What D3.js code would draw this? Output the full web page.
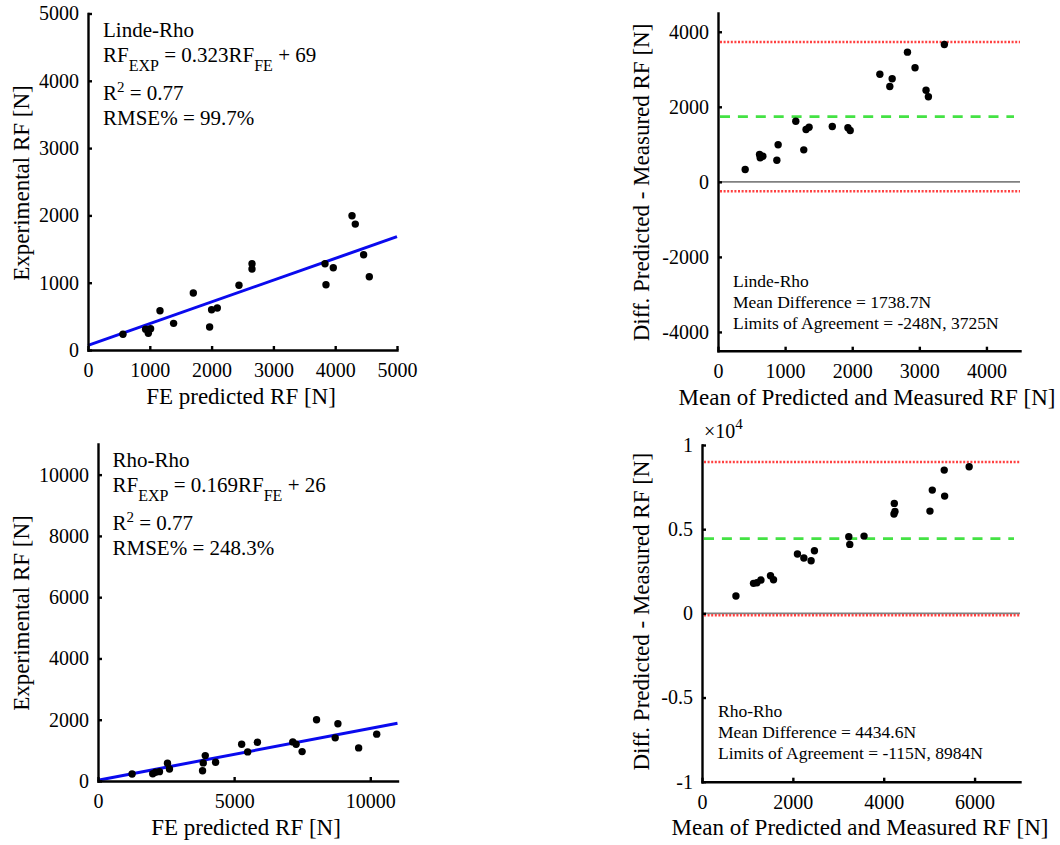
<!DOCTYPE html>
<html>
<head>
<meta charset="utf-8">
<script src="https://d3js.org/d3.v7.min.js"></script>
<style>
  body { margin: 0; background: #fff; }
</style>
</head>
<body>
<div id="chart"></div>
<script>
// Linde-Rho scatter (FE predicted vs experimental)
var lindeFE  = [566, 932, 976, 1013, 1165, 1385, 1704, 1968, 2000, 2092, 2443, 2654, 2654, 3835, 3851, 3969, 4272, 4325, 4460, 4552]
var lindeExp = [233, 308, 248, 316, 584, 396, 846, 342, 599, 624, 961, 1282, 1203, 1282, 970, 1222, 1994, 1871, 1415, 1089]
var lindeFit = {slope: 0.323, icpt: 69}

// Linde-Rho Bland-Altman
var lindeMean = [405, 619, 629, 668, 877, 896, 1159, 1278, 1312, 1357, 1703, 1936, 1970, 2412, 2560, 2595, 2823, 2936, 3100, 3135, 3373]
var lindeDiff = [329, 728, 640, 683, 576, 987, 1616, 853, 1395, 1456, 1475, 1440, 1368, 2869, 2541, 2747, 3456, 3040, 2443, 2267, 3661]
var lindeBA = {mean: 1738.7, lo: -248, hi: 3725}

// Rho-Rho scatter
var rhoFE  = [1252, 2010, 2110, 2257, 2552, 2625, 3840, 3866, 3940, 4319, 5276, 5497, 5854, 7154, 7276, 7497, 8027, 8712, 8811, 9573, 10236]
var rhoExp = [229, 239, 285, 305, 580, 393, 337, 590, 829, 612, 1202, 950, 1267, 1277, 1202, 960, 1998, 1408, 1867, 1081, 1529]
var rhoFit = {slope: 0.169, icpt: 26}

// Rho-Rho Bland-Altman
var rhoMean = [747, 1134, 1209, 1297, 1508, 1574, 2101, 2242, 2402, 2475, 3231, 3253, 3567, 4233, 4248, 4226, 5018, 5069, 5341, 5332, 5881]
var rhoDiff = [1027, 1781, 1817, 1977, 2233, 1995, 3521, 3284, 3124, 3717, 4549, 4097, 4590, 6532, 6057, 5897, 6075, 7322, 6966, 8510, 8706]
var rhoBA = {mean: 4434.6, lo: -115, hi: 8984}

var FONT = "'Liberation Serif', 'Times New Roman', Tinos, serif"
var W = 1060, H = 845
var svg = d3.select("#chart").append("svg").attr("width", W).attr("height", H)

function txt(sel){ return sel.style("font-family", FONT).attr("fill", "#000") }

function axes(g, x, y, opt){
	var xa = d3.axisBottom(x).tickValues(opt.xTicks).tickSizeInner(-4).tickSizeOuter(0).tickPadding(13).tickFormat(function(d){return String(d)})
	var ya = d3.axisLeft(y).tickValues(opt.yTicks).tickSizeInner(-4).tickSizeOuter(0).tickPadding(9).tickFormat(opt.yFmt || function(d){return String(d)})
	var gx = g.append("g").attr("transform", "translate(0," + y.range()[0] + ")").call(xa)
	var gy = g.append("g").attr("transform", "translate(" + x.range()[0] + ",0)").call(ya)
	;[gx, gy].forEach(function(a){
		a.attr("font-family", FONT).attr("font-size", 20)
		a.select(".domain").attr("stroke", "#000").attr("stroke-width", 2.4).attr("stroke-linecap", "square")
		a.selectAll(".tick line").attr("stroke", "#000").attr("stroke-width", 2.4)
		txt(a.selectAll(".tick text")).style("font-size", "20px")
	})
	// axis titles
	txt(g.append("text")).attr("x", opt.xt[0]).attr("y", opt.xt[1]).attr("text-anchor", "middle")
		.style("font-size", "23px").text(opt.xTitle)
	txt(g.append("text")).attr("transform", "translate(" + opt.yt[0] + "," + opt.yt[1] + ") rotate(-90)")
		.attr("text-anchor", "middle").style("font-size", "23px").text(opt.yTitle)
}

function dots(g, x, y, xs, ys){
	g.selectAll("circle.pt").data(xs).enter().append("circle").attr("class", "pt")
		.attr("cx", function(d){return x(d)})
		.attr("cy", function(d, i){return y(ys[i])})
		.attr("r", 3.7).attr("fill", "#000")
}

function scatterPanel(r, fe, exp, fit, dom, ticks, label, eqA, eqB, rmse){
	var g = svg.append("g")
	var x = d3.scaleLinear().domain([0, dom]).range([r.left, r.right])
	var y = d3.scaleLinear().domain([0, dom]).range([r.bottom, r.top])
	g.append("line").attr("x1", x(0)).attr("y1", y(fit.icpt)).attr("x2", x(dom)).attr("y2", y(fit.slope * dom + fit.icpt))
		.attr("stroke", "#0a0aee").attr("stroke-width", 3)
	dots(g, x, y, fe, exp)
	axes(g, x, y, {xTicks: ticks, yTicks: r.yTicks, xTitle: "FE predicted RF [N]", yTitle: "Experimental RF [N]", xt: r.xt, yt: r.yt})

	var tx = r.ann[0], ty = r.ann[1]
	var t = g.append("g").style("font-size", "21px")
	txt(t.append("text")).attr("x", tx).attr("y", ty).text(label)
	var e = txt(t.append("text")).attr("x", tx).attr("y", ty + 25)
	e.append("tspan").text("RF")
	e.append("tspan").attr("dy", 9).style("font-size", "16px").text("EXP")
	e.append("tspan").attr("dy", -9).text(" = " + eqA + "RF")
	e.append("tspan").attr("dy", 9).style("font-size", "16px").text("FE")
	e.append("tspan").attr("dy", -9).text(" + " + eqB)
	var r2 = txt(t.append("text")).attr("x", tx).attr("y", ty + 63)
	r2.append("tspan").text("R")
	r2.append("tspan").attr("dy", -8).style("font-size", "15px").text("2")
	r2.append("tspan").attr("dy", 8).text(" = 0.77")
	txt(t.append("text")).attr("x", tx).attr("y", ty + 88).text("RMSE% = " + rmse)
}

function baPanel(r, mean, diff, ba, xDom, yDom, xTicks, yTicks, yFmt, label, mdTxt, loaTxt){
	var g = svg.append("g")
	var x = d3.scaleLinear().domain(xDom).range([r.left, r.right])
	var y = d3.scaleLinear().domain(yDom).range([r.bottom, r.top])
	g.append("line").attr("x1", x(xDom[0])).attr("x2", x(xDom[1])).attr("y1", y(0)).attr("y2", y(0))
		.attr("stroke", "#808080").attr("stroke-width", 1.6)
	;[ba.lo, ba.hi].forEach(function(v){
		g.append("line").attr("x1", x(xDom[0]) + 2).attr("x2", x(xDom[1])).attr("y1", y(v)).attr("y2", y(v))
			.attr("stroke", "#ff4040").attr("stroke-width", 2.5).attr("stroke-dasharray", "2,1.6")
	})
	g.append("line").attr("x1", x(xDom[0]) + 2).attr("x2", x(xDom[1]) - 6).attr("y1", y(ba.mean)).attr("y2", y(ba.mean))
		.attr("stroke", "#44e244").attr("stroke-width", 2.7).attr("stroke-dasharray", "10,7.9")
	dots(g, x, y, mean, diff)
	axes(g, x, y, {xTicks: xTicks, yTicks: yTicks, yFmt: yFmt, xTitle: "Mean of Predicted and Measured RF [N]",
		yTitle: "Diff. Predicted - Measured RF [N]", xt: r.xt, yt: r.yt})
	var t = g.append("g").style("font-size", "17.5px")
	txt(t.append("text")).attr("x", r.ann[0]).attr("y", r.ann[1]).text(label)
	txt(t.append("text")).attr("x", r.ann[0]).attr("y", r.ann[1] + 21).text("Mean Difference = " + mdTxt)
	txt(t.append("text")).attr("x", r.ann[0]).attr("y", r.ann[1] + 42).text("Limits of Agreement = " + loaTxt)
	return g
}

scatterPanel({left: 88, right: 397, top: 13.5, bottom: 350, yTicks: [0, 1000, 2000, 3000, 4000, 5000],
	xt: [241, 404], yt: [29, 183], ann: [103, 37]},
	lindeFE, lindeExp, lindeFit, 5000, [0, 1000, 2000, 3000, 4000, 5000], "Linde-Rho", "0.323", "69", "99.7%")

scatterPanel({left: 98, right: 397.5, top: 444, bottom: 781, yTicks: [0, 2000, 4000, 6000, 8000, 10000],
	xt: [246, 835], yt: [29, 613], ann: [112.5, 467]},
	rhoFE, rhoExp, rhoFit, 11000, [0, 5000, 10000], "Rho-Rho", "0.169", "26", "248.3%")

baPanel({left: 718, right: 1020, top: 13, bottom: 350.7, xt: [867, 405], yt: [649, 182.5], ann: [733, 287]},
	lindeMean, lindeDiff, lindeBA, [0, 4500], [-4500, 4500], [0, 1000, 2000, 3000, 4000], [-4000, -2000, 0, 2000, 4000],
	null, "Linde-Rho", "1738.7N", "-248N, 3725N")

var g4 = baPanel({left: 702, right: 1020, top: 445, bottom: 781.7, xt: [860, 835], yt: [649, 611.7], ann: [718, 716.5]},
	rhoMean, rhoDiff, rhoBA, [0, 7000], [-10000, 10000], [0, 2000, 4000, 6000], [-10000, -5000, 0, 5000, 10000],
	function(d){return String(d / 10000)}, "Rho-Rho", "4434.6N", "-115N, 8984N")

// exponent label for the scaled y axis
var ex = txt(g4.append("text")).attr("x", 704).attr("y", 438).style("font-size", "20px")
ex.append("tspan").text("\u00d710")
ex.append("tspan").attr("dy", -9).style("font-size", "15px").text("4")
</script>
</body>
</html>
